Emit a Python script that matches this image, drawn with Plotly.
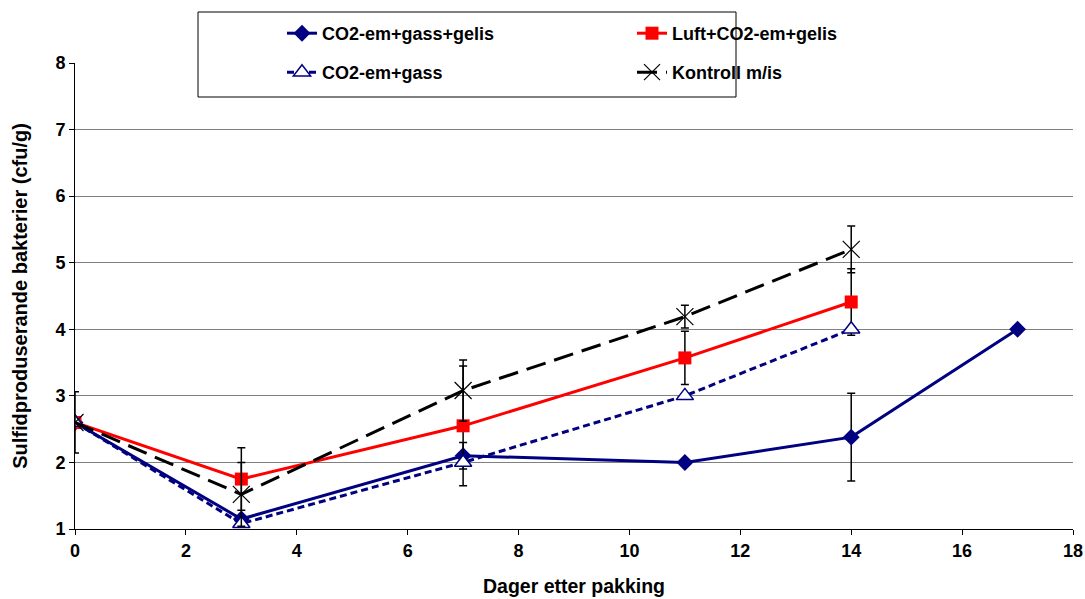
import plotly.graph_objects as go

days_a = [0, 3, 7, 11, 14, 17]
co2_gass_gelis = [2.6, 1.15, 2.1, 2.0, 2.38, 4.0]
co2_gass_gelis_err = [0, 0, 0.2, 0, 0.66, 0]

days_b = [0, 3, 7, 11, 14]
luft_co2_gelis = [2.6, 1.75, 2.55, 3.57, 4.41]
luft_co2_gelis_err = [0, 0.47, 0.9, 0.4, 0.5]

co2_gass = [2.6, 1.08, 2.0, 3.0, 4.0]
co2_gass_err = [0, 0, 0, 0, 0]

kontroll = [2.6, 1.52, 3.08, 4.19, 5.2]
kontroll_err = [0.46, 0.48, 0.46, 0.17, 0.35]

names = ["CO2-em+gass+gelis", "Luft+CO2-em+gelis", "CO2-em+gass", "Kontroll m/is"]

FONT = "Liberation Sans, Arial, sans-serif"
NAVY = "#000080"
FS = 18

def eb(vals):
    return dict(type="data", array=vals, visible=True, color="black", thickness=1.5, width=4)

fig = go.Figure()
fig.add_trace(go.Scatter(x=days_a, y=co2_gass_gelis, name=names[0], mode="lines+markers",
                         line=dict(color=NAVY, width=3),
                         marker=dict(symbol="diamond", size=13, color=NAVY),
                         error_y=eb(co2_gass_gelis_err), legend="legend"))
fig.add_trace(go.Scatter(x=days_b, y=luft_co2_gelis, name=names[1], mode="lines+markers",
                         line=dict(color="#FF0000", width=3),
                         marker=dict(symbol="square", size=13, color="#FF0000"),
                         error_y=eb(luft_co2_gelis_err), legend="legend"))
fig.add_trace(go.Scatter(x=days_b, y=co2_gass, name=names[2], mode="lines+markers",
                         line=dict(color=NAVY, width=3, dash="7px,4px"),
                         marker=dict(symbol="triangle-up", size=15, color="white",
                                     line=dict(color=NAVY, width=1.5)),
                         error_y=eb(co2_gass_err), legend="legend2"))
fig.add_trace(go.Scatter(x=days_b, y=kontroll, name=names[3], mode="lines+markers",
                         line=dict(color="black", width=3, dash="20px,9px"),
                         marker=dict(symbol="x-thin-open", size=17, color="black",
                                     line=dict(color="black", width=1.2)),
                         error_y=eb(kontroll_err), legend="legend2"))

fig.add_shape(type="rect", xref="paper", yref="paper",
              x0=(198 - 75) / 998, x1=(736 - 75) / 998,
              y0=(529 - 97) / 466, y1=(529 - 12) / 466,
              line=dict(color="black", width=1), fillcolor="white", layer="above")

def leg(ytop):
    return dict(orientation="h", xref="container", yref="container",
                x=282 / 1085, y=1 - ytop / 599, xanchor="left", yanchor="top",
                entrywidth=305, traceorder="normal",
                bgcolor="rgba(0,0,0,0)", borderwidth=0,
                font=dict(family=FONT, size=FS, color="black", weight="bold"))

fig.update_layout(
    width=1085, height=599,
    margin=dict(l=75, r=12, t=63, b=70, autoexpand=False),
    paper_bgcolor="white", plot_bgcolor="white",
    font=dict(family=FONT, size=FS, color="black"),
    showlegend=True,
    legend=leg(15),
    legend2=leg(54),
    xaxis=dict(range=[0, 18], dtick=2, tick0=0, showgrid=False, zeroline=False,
               showline=True, linecolor="black", linewidth=1,
               ticks="outside", ticklen=5, tickcolor="black",
               tickfont=dict(family=FONT, size=FS, weight="bold"),
               title=dict(text="Dager etter pakking", standoff=19,
                          font=dict(family=FONT, size=19.5, weight="bold"))),
    yaxis=dict(range=[1, 8], dtick=1, tick0=1, showgrid=True, gridcolor="#808080", gridwidth=1,
               zeroline=False, showline=True, linecolor="black", linewidth=1,
               ticks="outside", ticklen=5, tickcolor="black",
               tickfont=dict(family=FONT, size=FS, weight="bold"),
               title=dict(text="Sulfidproduserande bakterier (cfu/g)", standoff=22,
                          font=dict(family=FONT, size=20, weight="bold"))),
)

fig.write_html("out.html")
